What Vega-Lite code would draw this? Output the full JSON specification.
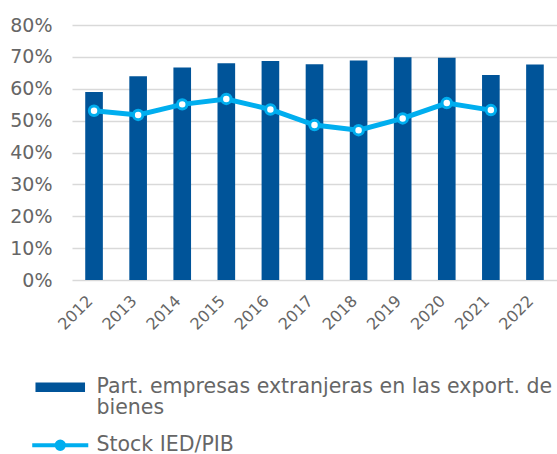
{
  "$schema": "https://vega.github.io/schema/vega-lite/v6.json",
  "width": 485,
  "height": 255,
  "autosize": {"type": "none"},
  "padding": {"left": 72, "top": 25, "right": 0, "bottom": 174},
  "background": "white",
  "config": {
    "view": {"stroke": null},
    "font": "DejaVu Sans",
    "axis": {"labelColor": "#666666", "labelFont": "DejaVu Sans"},
    "axisY": {
      "title": null,
      "labelFontSize": 19,
      "labelPadding": 20,
      "ticks": false,
      "domain": false,
      "gridColor": "#d9d9d9",
      "gridWidth": 1.5
    }
  },
  "data": {
    "values": [
      {"year": "2012", "part": 59.0, "stock": 53.1},
      {"year": "2013", "part": 63.9, "stock": 51.8},
      {"year": "2014", "part": 66.7, "stock": 55.1},
      {"year": "2015", "part": 68.0, "stock": 56.8},
      {"year": "2016", "part": 68.7, "stock": 53.5},
      {"year": "2017", "part": 67.7, "stock": 48.6},
      {"year": "2018", "part": 68.9, "stock": 47.0},
      {"year": "2019", "part": 69.9, "stock": 50.7},
      {"year": "2020", "part": 69.7, "stock": 55.5},
      {"year": "2021", "part": 64.3, "stock": 53.3},
      {"year": "2022", "part": 67.6, "stock": null}
    ]
  },
  "encoding": {
    "x": {
      "field": "year",
      "type": "ordinal",
      "scale": {"paddingInner": 0.6, "paddingOuter": 0.3},
      "axis": {
        "title": null,
        "labelAngle": -45,
        "labelAlign": "right",
        "labelBaseline": "middle",
        "labelFontSize": 16,
        "labelPadding": 18,
        "labelOffset": -4,
        "ticks": false,
        "domain": false
      }
    }
  },
  "layer": [
    {
      "mark": {"type": "bar"},
      "encoding": {
        "y": {
          "field": "part",
          "type": "quantitative",
          "scale": {"domain": [0, 80]},
          "axis": {
            "values": [0, 10, 20, 30, 40, 50, 60, 70, 80],
            "labelExpr": "datum.value + '%'"
          }
        },
        "color": {
          "datum": "Part. empresas extranjeras en las export. de bienes",
          "type": "nominal",
          "scale": {
            "domain": ["Part. empresas extranjeras en las export. de bienes", "Stock IED/PIB"],
            "range": ["#005499", "#00aeef"]
          },
          "legend": {
            "title": null,
            "orient": "none",
            "legendX": -22,
            "legendY": 352,
            "direction": "vertical",
            "labelFont": "DejaVu Sans",
            "labelFontSize": 20.5,
            "labelColor": "#666666",
            "labelLimit": 600,
            "labelOffset": 26,
            "rowPadding": 16,
            "symbolSize": 2900,
            "labelExpr": "datum.label == 'Stock IED/PIB' ? datum.label : ['Part. empresas extranjeras en las export. de', 'bienes']",
            "encode": {
              "labels": {"update": {"lineHeight": {"value": 21}}},
              "symbols": {
                "update": {
                  "shape": {"signal": "datum.value == 'Stock IED/PIB' ? 'M-1,-0.03H-0.17V0.03H-1ZM0.17,-0.03H1V0.03H0.17ZM0.17,0A0.17,0.17 0 1,1 -0.17,0A0.17,0.17 0 1,1 0.17,0Z' : 'M-0.92,-0.18H0.92V0.18H-0.92Z'"},
                  "fill": {"signal": "datum.value == 'Stock IED/PIB' ? '#ffffff' : '#005499'"},
                  "stroke": {"signal": "datum.value == 'Stock IED/PIB' ? '#00aeef' : '#005499'"},
                  "strokeWidth": {"signal": "datum.value == 'Stock IED/PIB' ? 2.2 : 0"},
                  "opacity": {"value": 1},
                  "fillOpacity": {"value": 1}
                }
              }
            }
          }
        }
      }
    },
    {
      "transform": [{"filter": "datum.stock != null"}],
      "mark": {"type": "line", "strokeWidth": 5},
      "encoding": {
        "y": {
          "field": "stock",
          "type": "quantitative",
          "axis": {
            "values": [0, 10, 20, 30, 40, 50, 60, 70, 80],
            "labelExpr": "datum.value + '%'"
          }
        },
        "color": {"datum": "Stock IED/PIB", "type": "nominal"}
      }
    },
    {
      "transform": [{"filter": "datum.stock != null"}],
      "mark": {"type": "point", "filled": true, "fill": "white", "stroke": "#00aeef", "strokeWidth": 3, "size": 90, "opacity": 1},
      "encoding": {
        "y": {
          "field": "stock",
          "type": "quantitative",
          "axis": {
            "values": [0, 10, 20, 30, 40, 50, 60, 70, 80],
            "labelExpr": "datum.value + '%'"
          }
        }
      }
    }
  ]
}
